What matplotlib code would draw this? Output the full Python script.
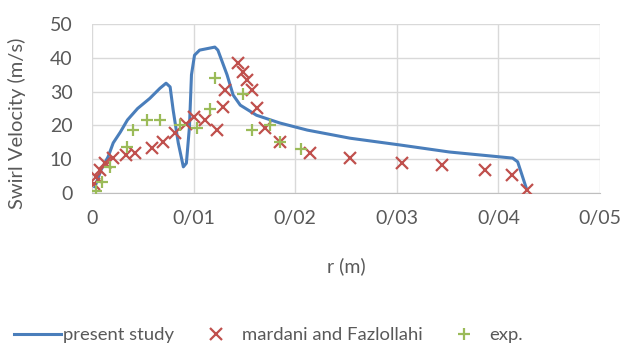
import numpy as np
import matplotlib
matplotlib.use("Agg")
from matplotlib import pyplot as plt
from matplotlib.ticker import FuncFormatter

# present study (CFD profile)
r_sim = [0.0003, 0.0009, 0.0016, 0.0021, 0.0028, 0.0035, 0.0045, 0.0057, 0.0067,
         0.0073, 0.0077, 0.0080, 0.0085, 0.0090, 0.0093, 0.0096, 0.0098, 0.0101,
         0.0106, 0.0121, 0.0124, 0.0133, 0.0139, 0.0146, 0.0162, 0.0185, 0.0212,
         0.0254, 0.0303, 0.0352, 0.0414, 0.0419, 0.0428]
v_sim = [1.8, 6.8, 10.7, 14.8, 18.0, 21.6, 25.0, 28.0, 31.0,
         32.5, 31.4, 24.5, 14.8, 7.7, 8.8, 19.5, 35.0, 40.8,
         42.3, 43.2, 42.3, 35.0, 29.0, 26.0, 23.0, 20.7, 18.6,
         16.2, 14.2, 12.1, 10.3, 9.2, 0.9]

# mardani and Fazlollahi
r_mf = [0.0002, 0.0004, 0.0008, 0.0013, 0.0021, 0.0034, 0.0042, 0.0059, 0.0070,
        0.0082, 0.0093, 0.0100, 0.0111, 0.0123, 0.0129, 0.0131, 0.0144, 0.0149,
        0.0153, 0.0158, 0.0162, 0.0170, 0.0185, 0.0215, 0.0254, 0.0305, 0.0345,
        0.0387, 0.0413, 0.0428]
v_mf = [2.5, 4.7, 6.8, 8.9, 10.4, 11.2, 11.8, 13.3, 15.0,
        17.7, 20.5, 22.5, 21.6, 18.6, 25.5, 30.5, 38.4, 35.8,
        33.4, 30.5, 25.1, 19.2, 15.0, 11.8, 10.3, 8.8, 8.3,
        6.8, 5.3, 0.9]

# exp.
r_exp = [0.0004, 0.0010, 0.0018, 0.0035, 0.0040, 0.0054, 0.0067, 0.0087, 0.0103,
         0.0116, 0.0121, 0.0149, 0.0158, 0.0175, 0.0185, 0.0206]
v_exp = [0.5, 3.3, 7.7, 13.6, 18.6, 21.6, 21.6, 20.0, 19.2,
         24.8, 34.0, 29.2, 18.6, 20.0, 15.0, 13.0]

plt.rcParams['font.family'] = ['Lato', 'DejaVu Sans']
txt = '#595959'

fig = plt.figure(figsize=(6.25, 3.45), dpi=100)
ax = fig.add_axes([0.147, 0.441, 0.813, 0.489])

ax.plot(r_sim, v_sim, '-', color='#4a7ebb', lw=2.2, label='present study', zorder=3)
ax.plot(r_mf, v_mf, 'x', color='#c0504d', ms=8.5, mew=1.6, label='mardani and Fazlollahi', zorder=4)
ax.plot(r_exp, v_exp, '+', color='#9bbb59', ms=8.5, mew=1.6, label='exp.', zorder=5)

ax.set_xlim(0, 0.05)
ax.set_ylim(0, 50)
ax.set_xticks(np.arange(0, 0.051, 0.01))
ax.set_yticks(np.arange(0, 51, 10))
ax.xaxis.set_major_formatter(FuncFormatter(lambda v, p: '0' if v == 0 else '0/%02d' % round(v * 100)))

ax.grid(True, color='#d9d9d9', lw=1)
ax.set_axisbelow(True)
for s in ['top', 'right', 'left']:
    ax.spines[s].set_visible(False)
ax.spines['bottom'].set_color('#bfbfbf')
ax.tick_params(length=0, colors=txt, labelsize=14)
ax.tick_params(axis='x', pad=12)
ax.tick_params(axis='y', pad=14)

ax.set_xlabel('r (m)', color=txt, fontsize=14, labelpad=22)
ax.set_ylabel('Swirl Velocity (m/s)', color=txt, fontsize=14.5)
ax.yaxis.set_label_coords(-0.13, 0.41)

leg = fig.legend(loc='center', bbox_to_anchor=(0.430, 0.028), ncol=3, frameon=False,
                 fontsize=13.3, handlelength=2.55, columnspacing=1.0, handletextpad=0.1)
for t in leg.get_texts():
    t.set_color(txt)

plt.savefig('out.png', dpi=100)
